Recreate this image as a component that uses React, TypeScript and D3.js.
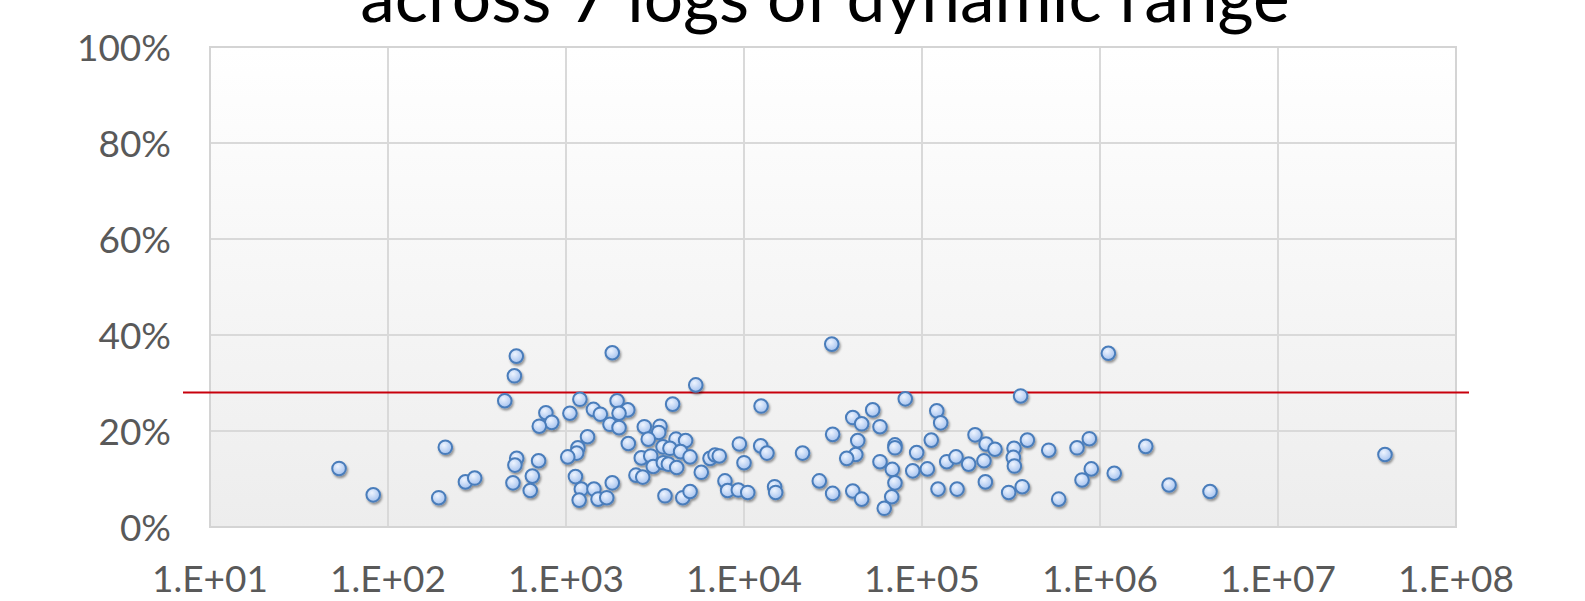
import React from "react";
import * as d3 from "d3";

// decade exponent of each sample (x = 10^exp) and its value in %
const xExp = [
  1.725, 1.917, 2.285, 2.322, 2.435, 2.487, 2.656, 2.71, 2.721, 2.723,
  2.713, 2.702, 2.846, 2.811, 2.799, 2.887, 2.92, 2.85, 3.022, 3.078,
  3.154, 3.193, 3.121, 3.067, 3.06, 3.01, 3.053, 3.086, 3.074, 3.157,
  3.18, 3.229, 3.26, 3.26, 3.287, 3.347, 3.298, 3.247, 3.298, 3.35,
  3.44, 3.528, 3.521, 3.462, 3.618, 3.672, 3.545, 3.584, 3.644, 3.697,
  3.423, 3.476, 3.49, 3.547, 3.575, 3.622, 3.393, 3.431, 3.729, 3.599,
  3.76, 3.809, 3.837, 3.861, 3.556, 3.656, 3.697, 3.893, 3.908, 3.968,
  4.021, 3.974, 4.0, 4.096, 4.094, 4.129, 4.172, 4.178, 4.329, 4.423,
  4.493, 4.498, 4.498, 4.611, 4.661, 4.723, 4.764, 4.639, 4.628, 4.577,
  4.611, 4.661, 4.764, 4.833, 4.848, 4.83, 4.788, 4.848, 4.848, 4.906,
  4.97, 4.948, 5.03, 5.052, 5.083, 5.105, 5.09, 5.197, 5.139, 5.191,
  5.262, 5.298, 5.36, 5.41, 5.348, 5.356, 5.487, 5.563, 5.517, 5.513,
  5.519, 5.592, 5.554, 5.712, 5.768, 5.871, 5.94, 5.899, 5.951, 6.047,
  6.08, 6.257, 6.388, 6.618, 7.601,
];
const pct = [
  12.2, 6.7, 6.1, 16.6, 9.4, 10.2, 26.3, 31.5, 35.6, 14.3,
  12.9, 9.2, 13.8, 10.6, 7.6, 23.8, 21.8, 21.0, 23.7, 26.6,
  24.5, 23.5, 18.8, 16.5, 15.4, 14.6, 10.5, 7.9, 5.6, 7.9,
  5.8, 6.1, 9.2, 36.3, 26.3, 24.4, 23.7, 21.4, 20.7, 17.4,
  20.9, 21.0, 19.7, 18.3, 18.3, 18.0, 16.7, 16.4, 15.7, 14.6,
  14.4, 14.8, 12.6, 13.4, 13.1, 12.4, 10.8, 10.4, 29.6, 25.6,
  11.4, 14.3, 15.0, 14.8, 6.5, 6.1, 7.4, 9.6, 7.6, 7.7,
  7.2, 17.3, 13.4, 25.2, 16.9, 15.4, 8.4, 7.2, 15.4, 9.6,
  38.1, 7.0, 19.3, 22.8, 21.5, 24.4, 20.9, 18.0, 15.1, 14.3,
  7.5, 5.8, 13.6, 12.0, 9.2, 6.3, 3.9, 17.1, 16.5, 26.7,
  15.5, 11.7, 12.1, 18.1, 24.2, 21.7, 7.9, 7.9, 13.6, 14.6,
  13.1, 19.2, 17.3, 16.2, 13.8, 9.4, 7.2, 8.4, 16.4, 14.5,
  12.7, 18.1, 27.3, 16.0, 5.8, 16.5, 18.4, 9.8, 12.1, 36.2,
  11.2, 16.8, 8.75, 7.4, 15.1,
];

const xTicks = [1e1, 1e2, 1e3, 1e4, 1e5, 1e6, 1e7, 1e8];
const xTickLabels = ["1.E+01", "1.E+02", "1.E+03", "1.E+04", "1.E+05", "1.E+06", "1.E+07", "1.E+08"];
const yTicks = [0, 20, 40, 60, 80, 100];
const yTickLabels = ["0%", "20%", "40%", "60%", "80%", "100%"];
const threshold = 28;
const title = "across 7 logs of dynamic range";

const W = 1585;
const H = 601;
const left = 210, right = 1456, top = 47, bottom = 527;
const FONT = "Lato, 'Open Sans', sans-serif";

export default function App() {
  const x = d3.scaleLog().domain([1e1, 1e8]).range([left, right]);
  const y = d3.scaleLinear().domain([0, 100]).range([bottom, top]);

  const points = xExp.map((e, i) => ({ x: Math.pow(10, e), v: pct[i] }));

  return (
    <svg width={W} height={H} style={{ position: "absolute", left: 0, top: 0 }} fontFamily={FONT}>
      <defs>
        <linearGradient id="plotBg" x1="0" y1="0" x2="0" y2="1">
          <stop offset="0" stopColor="#ffffff" />
          <stop offset="1" stopColor="#ededed" />
        </linearGradient>
        <radialGradient id="dotFill" cx="0.4" cy="0.35" r="0.7">
          <stop offset="0" stopColor="#eef4fe" />
          <stop offset="1" stopColor="#a0bfee" />
        </radialGradient>
        <filter id="shadow" x="-50%" y="-50%" width="200%" height="200%">
          <feDropShadow dx="1.2" dy="2" stdDeviation="1.3" floodColor="#000" floodOpacity="0.4" />
        </filter>
      </defs>

      <rect width={W} height={H} fill="#fff" />

      {/* second line of the title, its top is clipped by the page edge */}
      <text x={825} y={22} textAnchor="middle" fontSize={69.5} fill="#000">{title}</text>

      {/* plot area */}
      <rect x={left} y={top} width={right - left} height={bottom - top} fill="url(#plotBg)" />
      {yTicks.map((t) => (
        <line key={"gy" + t} x1={left} x2={right} y1={y(t)} y2={y(t)} stroke="#d9d9d9" strokeWidth={2} />
      ))}
      {xTicks.map((t) => (
        <line key={"gx" + t} x1={x(t)} x2={x(t)} y1={top} y2={bottom} stroke="#d9d9d9" strokeWidth={2} />
      ))}
      <rect x={left} y={top} width={right - left} height={bottom - top} fill="none" stroke="#d4d4d4" strokeWidth={2} />

      {/* threshold line */}
      <line x1={183} x2={1469} y1={y(threshold)} y2={y(threshold)} stroke="#c8000c" strokeWidth={2} />

      {/* points */}
      <g filter="url(#shadow)">
        {points.map((p, i) => (
          <circle key={i} cx={x(p.x)} cy={y(p.v)} r={6.8} fill="url(#dotFill)" stroke="#4a7dbb" strokeWidth={2} />
        ))}
      </g>

      {/* axis labels */}
      {yTicks.map((t, i) => (
        <text key={"ly" + t} x={171} y={y(t) + 14} textAnchor="end" fontSize={37} fill="#595959">
          {yTickLabels[i]}
        </text>
      ))}
      {xTicks.map((t, i) => (
        <text key={"lx" + t} x={x(t)} y={592} textAnchor="middle" fontSize={37} fill="#595959">
          {xTickLabels[i]}
        </text>
      ))}
    </svg>
  );
}
